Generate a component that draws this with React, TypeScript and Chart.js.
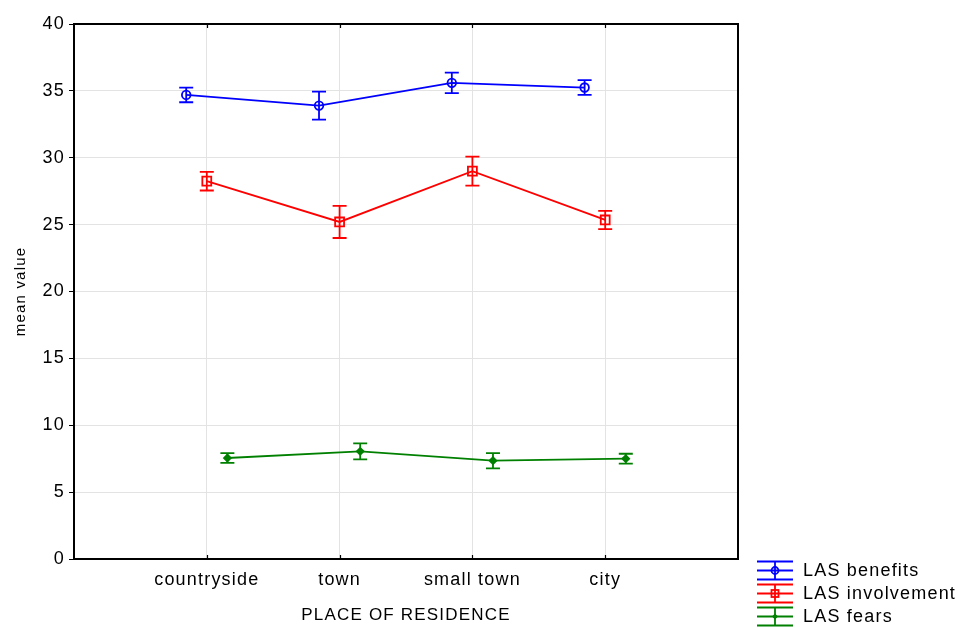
import { useEffect, useRef } from 'react';
import { Chart, registerables } from 'chart.js';

Chart.register(...registerables);

const categories = ['countryside', 'town', 'small town', 'city'];
const seriesNames = ['LAS benefits', 'LAS involvement', 'LAS fears'];
const seriesColors = ['#0000ff', '#ff0000', '#008000'];

const benefits = [34.7, 33.9, 35.6, 35.25];
const benefitsErr = [0.55, 1.05, 0.77, 0.55];
const involvement = [28.25, 25.2, 29.0, 25.35];
const involvementErr = [0.7, 1.2, 1.08, 0.68];
const fears = [7.55, 8.05, 7.35, 7.5];
const fearsErr = [0.36, 0.6, 0.57, 0.37];

const yMin = 0;
const yMax = 40;
const yStep = 5;

const seriesValues = [benefits, involvement, fears];
const seriesErrors = [benefitsErr, involvementErr, fearsErr];
const seriesShift = [-0.155, 0, 0.155];
const pointStyles = ['circle', 'rect', 'rectRot'];
const pointRadii = [4.3, 6.3, 3.4];

const FONT = "'Liberation Sans', Arial, sans-serif";
const SPACING = '1.2px';
const LW = 1.8;

const spacingPlugin = {
  id: 'spacing',
  beforeUpdate(chart: any) {
    chart.ctx.letterSpacing = SPACING;
  },
  beforeDraw(chart: any) {
    chart.ctx.letterSpacing = SPACING;
  },
};

const decorPlugin = {
  id: 'decor',
  afterDatasetsDraw(chart: any) {
    const ctx = chart.ctx;
    const yScale = chart.scales.y;
    ctx.save();
    chart.data.datasets.forEach((ds: any, i: number) => {
      const meta = chart.getDatasetMeta(i);
      ctx.strokeStyle = ds.borderColor;
      ctx.lineWidth = LW;
      meta.data.forEach((el: any, j: number) => {
        const v = seriesValues[i][j];
        const e = seriesErrors[i][j];
        const x = el.x;
        const yt = yScale.getPixelForValue(v + e);
        const yb = yScale.getPixelForValue(v - e);
        ctx.beginPath();
        ctx.moveTo(x, yt);
        ctx.lineTo(x, yb);
        ctx.moveTo(x - 7, yt);
        ctx.lineTo(x + 7, yt);
        ctx.moveTo(x - 7, yb);
        ctx.lineTo(x + 7, yb);
        ctx.stroke();
      });
    });
    ctx.restore();
  },
  afterDraw(chart: any) {
    const ctx = chart.ctx;
    const { left, right, top, bottom } = chart.chartArea;
    const xScale = chart.scales.x;
    ctx.save();
    ctx.strokeStyle = '#000';
    ctx.lineWidth = 2;
    ctx.strokeRect(left, top, right - left, bottom - top);
    ctx.lineWidth = 1.2;
    xScale.ticks.forEach((t: any) => {
      const x = Math.round(xScale.getPixelForValue(t.value)) + 0.5;
      ctx.beginPath();
      ctx.moveTo(x, bottom);
      ctx.lineTo(x, bottom - 4);
      ctx.moveTo(x, top);
      ctx.lineTo(x, top + 4);
      ctx.stroke();
    });

    // legend
    const lx0 = 757;
    const lx1 = 793;
    const lcx = (lx0 + lx1) / 2;
    const ys = [570.5, 593.5, 616.5];
    ctx.font = `18px ${FONT}`;
    ctx.textBaseline = 'middle';
    ctx.textAlign = 'left';
    seriesNames.forEach((name, i) => {
      const y = ys[i];
      const c = seriesColors[i];
      ctx.strokeStyle = c;
      ctx.lineWidth = LW;
      ctx.beginPath();
      ctx.moveTo(lx0, y - 9);
      ctx.lineTo(lx1, y - 9);
      ctx.moveTo(lx0, y);
      ctx.lineTo(lx1, y);
      ctx.moveTo(lx0, y + 9);
      ctx.lineTo(lx1, y + 9);
      ctx.moveTo(lcx, y - 9);
      ctx.lineTo(lcx, y + 9);
      ctx.stroke();
      ctx.beginPath();
      if (i === 0) {
        ctx.arc(lcx, y, 3.5, 0, Math.PI * 2);
        ctx.stroke();
      } else if (i === 1) {
        ctx.strokeRect(lcx - 3.5, y - 3.5, 7, 7);
      } else {
        ctx.fillStyle = c;
        ctx.moveTo(lcx, y - 3);
        ctx.lineTo(lcx + 3, y);
        ctx.lineTo(lcx, y + 3);
        ctx.lineTo(lcx - 3, y);
        ctx.closePath();
        ctx.fill();
      }
      ctx.fillStyle = '#000';
      ctx.fillText(name, 803, y + 1);
    });
    ctx.restore();
  },
};

export default function App() {
  const ref = useRef<HTMLCanvasElement | null>(null);

  useEffect(() => {
    if (!ref.current) return;
    const yTickValues: number[] = [];
    for (let v = yMin; v <= yMax; v += yStep) yTickValues.push(v);

    const chart = new Chart(ref.current, {
      type: 'line',
      data: {
        datasets: seriesNames.map((name, i) => ({
          label: name,
          data: seriesValues[i].map((v, j) => ({ x: j + 1 + seriesShift[i], y: v })),
          borderColor: seriesColors[i],
          backgroundColor: i === 2 ? seriesColors[i] : 'rgba(0,0,0,0)',
          borderWidth: LW,
          pointStyle: pointStyles[i] as any,
          pointRadius: pointRadii[i],
          pointBorderWidth: LW,
          pointBackgroundColor: i === 2 ? seriesColors[i] : 'rgba(0,0,0,0)',
          tension: 0,
          fill: false,
        })),
      },
      options: {
        animation: false,
        responsive: false,
        devicePixelRatio: 1,
        layout: { padding: { left: 0, top: 24, right: 220, bottom: 0 } },
        plugins: {
          legend: { display: false },
          tooltip: { enabled: false },
        },
        font: { family: FONT, size: 18 },
        scales: {
          x: {
            type: 'linear',
            min: 0,
            max: categories.length + 1,
            afterBuildTicks: (scale: any) => {
              scale.ticks = categories.map((_, i) => ({ value: i + 1 }));
            },
            afterFit: (scale: any) => {
              scale.height = 69;
            },
            ticks: {
              autoSkip: false,
              maxRotation: 0,
              padding: 10,
              color: '#000',
              font: { family: FONT, size: 18 },
              callback: (v: any) => categories[Math.round(v) - 1] ?? '',
            },
            grid: { color: '#e3e3e3', lineWidth: 1, drawTicks: false },
            border: { display: false },
            title: {
              display: true,
              text: 'PLACE OF RESIDENCE',
              color: '#000',
              font: { family: FONT, size: 17 },
              padding: { top: 0, bottom: 2 },
            },
          },
          y: {
            type: 'linear',
            min: yMin,
            max: yMax,
            afterBuildTicks: (scale: any) => {
              scale.ticks = yTickValues.map((v) => ({ value: v }));
            },
            afterFit: (scale: any) => {
              scale.width = 74;
            },
            ticks: {
              padding: 4,
              color: '#000',
              font: { family: FONT, size: 18 },
            },
            grid: { color: '#e3e3e3', lineWidth: 1, tickColor: '#000', tickLength: 5 },
            border: { display: false },
            title: {
              display: true,
              text: 'mean value',
              color: '#000',
              font: { family: FONT, size: 15 },
              padding: { top: 12, bottom: 0 },
            },
          },
        },
      } as any,
      plugins: [spacingPlugin, decorPlugin],
    });
    return () => chart.destroy();
  }, []);

  return (
    <div style={{ position: 'fixed', left: 0, top: 0, width: 958, height: 628, background: '#fff' }}>
      <canvas ref={ref} width={958} height={628} style={{ display: 'block', width: 958, height: 628 }} />
    </div>
  );
}
